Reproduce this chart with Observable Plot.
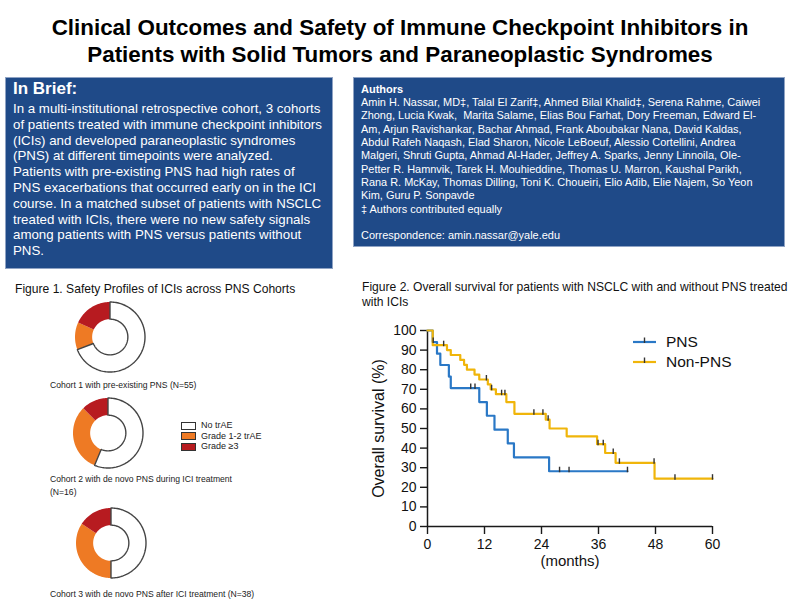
<!DOCTYPE html>
<html>
<head>
<meta charset="utf-8">
<script src="https://cdn.jsdelivr.net/npm/d3@7"></script>
<script src="https://cdn.jsdelivr.net/npm/@observablehq/plot@0.6"></script>
<style>
  body { margin: 0; background: #fff; }
  #page { position: relative; width: 800px; height: 600px; overflow: hidden; background: #fff;
          font-family: "Liberation Sans", Arial, Helvetica, sans-serif; color: #111; }
  .abs { position: absolute; white-space: nowrap; }
  .title { left: 0; width: 800px; top: 15px; text-align: center;
           font-weight: bold; font-size: 22.4px; line-height: 26.7px; color: #000; }
  .box { position: absolute; background: #1f4a88; border: 1px solid #8fa3c4; box-sizing: border-box; color: #fff; }
  .brief-h { left: 13px; top: 80px; font-weight: bold; font-size: 17px; line-height: 18px; color: #fff; }
  .brief { left: 13px; top: 101px; font-size: 13.3px; line-height: 15.8px; color: #fff; }
  .auth-h { left: 361px; top: 83px; font-weight: bold; font-size: 11px; line-height: 13px; color: #fff; }
  .auth { left: 361px; top: 96px; font-size: 10.95px; line-height: 13.33px; color: #fff; }
  .figt { font-size: 12.1px; line-height: 15px; color: #111; }
  .cap { font-size: 8.6px; line-height: 12.5px; color: #222; }
  .leg1 { font-size: 9px; line-height: 10.5px; color: #222; }
  .sw { display: inline-block; width: 13px; height: 6px; border: 1px solid #333; vertical-align: middle; margin-right: 5px; }
  .kmleg { font-size: 15.5px; line-height: 20px; color: #111; }
</style>
</head>
<body>
<div id="page"></div>
<script>
// ---------------- DATA ----------------
// Figure 1: safety categories and patient counts per cohort
const categories = ["No trAE", "Grade 1-2 trAE", "Grade \u22653"];
const categoryColors = ["#ffffff", "#ee7a24", "#b71b20"];
const cohortNames = [
  "Cohort 1 with pre-existing PNS (N=55)",
  "Cohort 2 with de novo PNS during ICI treatment",
  "Cohort 3 with de novo PNS after ICI treatment (N=38)"
];
const cohort1Counts = [38, 7, 10];
const cohort2Counts = [9, 5, 2];
const cohort3Counts = [19, 13, 6];

// Figure 2: Kaplan-Meier overall survival (months, %)
const seriesNames = ["PNS", "Non-PNS"];
const seriesColors = ["#2a78c6", "#f0b50a"];
const pnsTimes = [0, 1.1, 2.0, 2.7, 4.5, 4.9, 10.9, 12.5, 14.1, 16.9, 18.2, 25.6, 42.1];
const pnsSurv  = [100, 94.1, 88.2, 82.4, 76.5, 70.6, 63.5, 56.5, 49.4, 42.4, 35.3, 28.2, 28.2];
const pnsCensored = [1.2, 9.1, 10.0, 27.8, 29.8, 42.1];
const nonPnsTimes = [0, 1.1, 4.1, 4.9, 6.9, 7.7, 8.3, 9.9, 10.9, 12.7, 13.3, 14.4, 16.6, 18.3, 24.9, 25.7, 29.3, 35.7, 37.4, 39.6, 47.8, 60];
const nonPnsSurv  = [100, 92.5, 90, 87.5, 85, 82.5, 80, 77.5, 75, 72.5, 70, 67.5, 63.5, 57.5, 54.5, 50, 46, 42, 37.5, 32.5, 24.4, 24.4];
const nonPnsCensored = [3.4, 12.4, 13.5, 15.6, 16.3, 22.4, 24.3, 25.4, 35.9, 37.0, 39.1, 40.4, 47.7, 52.1, 60];
const xTicks = [0, 12, 24, 36, 48, 60];
const yTicks = [0, 10, 20, 30, 40, 50, 60, 70, 80, 90, 100];

// ---------------- LAYOUT ----------------
const page = document.getElementById("page");
function el(html, cls, style) {
  const d = document.createElement("div");
  d.className = cls || "";
  if (style) d.setAttribute("style", style);
  d.innerHTML = html;
  page.appendChild(d);
  return d;
}

el("Clinical Outcomes and Safety of Immune Checkpoint Inhibitors in<br>Patients with Solid Tumors and Paraneoplastic Syndromes", "abs title");

el("", "box", "left:5px;top:77px;width:328px;height:192px;");
el("In Brief:", "abs brief-h");
el("In a multi-institutional retrospective cohort, 3 cohorts<br>" +
   "of patients treated with immune checkpoint inhibitors<br>" +
   "(ICIs) and developed paraneoplastic syndromes<br>" +
   "(PNS) at different timepoints were analyzed.<br>" +
   "Patients with pre-existing PNS had high rates of<br>" +
   "PNS exacerbations that occurred early on in the ICI<br>" +
   "course. In a matched subset of patients with NSCLC<br>" +
   "treated with ICIs, there were no new safety signals<br>" +
   "among patients with PNS versus patients without<br>" +
   "PNS.", "abs brief");

el("", "box", "left:353px;top:77px;width:432px;height:170px;");
el("Authors", "abs auth-h");
el("Amin H. Nassar, MD\u2021, Talal El Zarif\u2021, Ahmed Bilal Khalid\u2021, Serena Rahme, Caiwei<br>" +
   "Zhong, Lucia Kwak,&nbsp; Marita Salame, Elias Bou Farhat, Dory Freeman, Edward El-<br>" +
   "Am, Arjun Ravishankar, Bachar Ahmad, Frank Aboubakar Nana, David Kaldas,<br>" +
   "Abdul Rafeh Naqash, Elad Sharon, Nicole LeBoeuf, Alessio Cortellini, Andrea<br>" +
   "Malgeri, Shruti Gupta, Ahmad Al-Hader, Jeffrey A. Sparks, Jenny Linnoila, Ole-<br>" +
   "Petter R. Hamnvik, Tarek H. Mouhieddine, Thomas U. Marron, Kaushal Parikh,<br>" +
   "Rana R. McKay, Thomas Dilling, Toni K. Choueiri, Elio Adib, Elie Najem, So Yeon<br>" +
   "Kim, Guru P. Sonpavde<br>" +
   "\u2021 Authors contributed equally<br><br>" +
   "Correspondence: amin.nassar@yale.edu", "abs auth");

el("Figure 1. Safety Profiles of ICIs across PNS Cohorts", "abs figt", "left:15px;top:281.5px;");
el("Figure 2. Overall survival for patients with NSCLC with and without PNS treated<br>with ICIs", "abs figt", "left:362px;top:279.5px;");

// ---------------- DONUTS (Figure 1) ----------------
const R_OUT = 1, R_IN = 0.51;
function donutRows(counts) {
  const total = d3.sum(counts);
  const rows = [];
  let acc = 0;
  counts.forEach((v, i) => {
    const a0 = acc / total * 2 * Math.PI, a1 = (acc + v) / total * 2 * Math.PI;
    acc += v;
    const n = Math.max(2, Math.ceil((a1 - a0) / (Math.PI / 90)));
    for (let k = 0; k <= n; k++) {
      const a = a0 + (a1 - a0) * k / n;
      rows.push({cat: categories[i], x1: R_OUT * Math.sin(a), y1: R_OUT * Math.cos(a),
                 x2: R_IN * Math.sin(a), y2: R_IN * Math.cos(a)});
    }
  });
  return rows;
}
function donut(counts) {
  const rows = donutRows(counts);
  return Plot.plot({
    width: 80, height: 80, margin: 5,
    x: {domain: [-1, 1], axis: null},
    y: {domain: [-1, 1], axis: null},
    color: {domain: categories, range: categoryColors},
    style: {background: "transparent"},
    marks: [
      Plot.area(rows, {x1: "x1", y1: "y1", x2: "x2", y2: "y2", z: "cat", fill: "cat", curve: "linear"}),
      Plot.area(rows.filter(d => d.cat === categories[0]), {x1: "x1", y1: "y1", x2: "x2", y2: "y2", z: "cat",
        fill: "none", stroke: "#454545", strokeWidth: 1.4, curve: "linear"})
    ]
  });
}
const donutCenters = [[110, 337], [108, 433], [111, 543]];
[cohort1Counts, cohort2Counts, cohort3Counts].forEach((c, i) => {
  const holder = el("", "abs", `left:${donutCenters[i][0] - 40}px;top:${donutCenters[i][1] - 40}px;width:80px;height:80px;`);
  holder.appendChild(donut(c));
});
el(cohortNames[0], "abs cap", "left:50px;top:379px;");
el(cohortNames[1] + "<br>(N=16)", "abs cap", "left:50px;top:473px;");
el(cohortNames[2], "abs cap", "left:50px;top:588px;");

el(categories.map((c, i) => `<div><span class="sw" style="background:${categoryColors[i]}"></span>${c}</div>`).join(""),
   "abs leg1", "left:181px;top:420px;");

// ---------------- KAPLAN-MEIER (Figure 2) ----------------
function stepValue(times, surv, t) {
  let v = surv[0];
  for (let i = 0; i < times.length; i++) if (times[i] <= t) v = surv[i];
  return v;
}
const kmRows = [];
pnsTimes.forEach((t, i) => kmRows.push({group: seriesNames[0], t, v: pnsSurv[i]}));
nonPnsTimes.forEach((t, i) => kmRows.push({group: seriesNames[1], t, v: nonPnsSurv[i]}));
const censorRows = [];
pnsCensored.forEach(t => censorRows.push({group: seriesNames[0], t, v: stepValue(pnsTimes, pnsSurv, t)}));
nonPnsCensored.forEach(t => censorRows.push({group: seriesNames[1], t, v: stepValue(nonPnsTimes, nonPnsSurv, t)}));

const tickSymbol = {draw(ctx) { ctx.moveTo(0, -4.5); ctx.lineTo(0, 1); }};

const km = Plot.plot({
  width: 380, height: 270,
  marginLeft: 65, marginRight: 30, marginTop: 20, marginBottom: 54,
  x: {domain: [0, 60]},
  y: {domain: [0, 100]},
  color: {domain: seriesNames, range: seriesColors},
  style: {background: "transparent", color: "#1a1a1a", fontFamily: "'Liberation Sans', Arial, sans-serif"},
  marks: [
    Plot.axisY({ticks: yTicks, tickSize: 7, tickPadding: 4, fontSize: 14, strokeWidth: 1.4, label: null, fill: "#111"}),
    Plot.axisX({ticks: xTicks, tickSize: 8, tickPadding: 5, fontSize: 14, strokeWidth: 1.4, label: null, fill: "#111"}),
    Plot.ruleX([0], {stroke: "#1a1a1a", strokeWidth: 1.5}),
    Plot.ruleY([0], {stroke: "#1a1a1a", strokeWidth: 1.5}),
    Plot.line(kmRows, {x: "t", y: "v", z: "group", stroke: "group", curve: "step-after", strokeWidth: 2.2}),
    Plot.dot(censorRows, {x: "t", y: "v", symbol: tickSymbol, fill: "none", stroke: "#333", strokeWidth: 1.4}),
    Plot.text(["Overall survival (%)"], {frameAnchor: "left", textAnchor: "middle", rotate: -90, dx: -48.5, fontSize: 16, fill: "#111"}),
    Plot.text(["(months)"], {frameAnchor: "bottom", dy: 39, fontSize: 15, fill: "#111"})
  ]
});
const kmHolder = el("", "abs", "left:362px;top:310px;");
kmHolder.appendChild(km);

// KM legend
const legY = [341.5, 361.5];
seriesNames.forEach((s, i) => {
  el(`<svg width="24" height="10" style="vertical-align:middle"><line x1="0" y1="5" x2="23" y2="5" stroke="${seriesColors[i]}" stroke-width="2.2"/><line x1="11.5" y1="0.5" x2="11.5" y2="6" stroke="#333" stroke-width="1.4"/></svg>`,
     "abs", `left:633px;top:${legY[i] - 5}px;line-height:10px;`);
  el(s, "abs kmleg", `left:666px;top:${legY[i] - 10}px;`);
});
</script>
</body>
</html>
